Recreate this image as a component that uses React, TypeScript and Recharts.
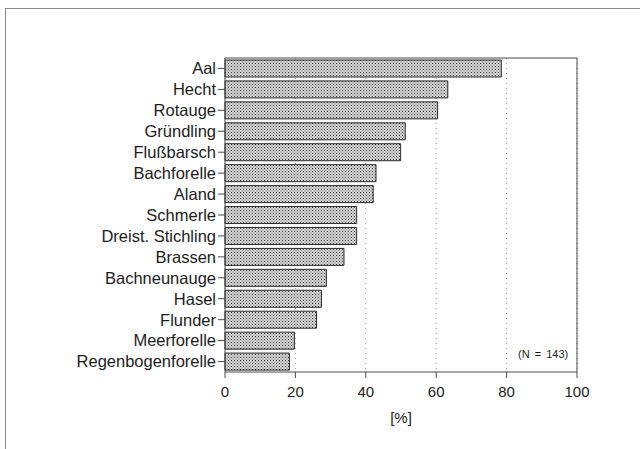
import { BarChart, Bar, XAxis, YAxis, CartesianGrid, ReferenceLine } from 'recharts'

const species = [
  'Aal', 'Hecht', 'Rotauge', 'Gründling', 'Flußbarsch', 'Bachforelle', 'Aland', 'Schmerle',
  'Dreist. Stichling', 'Brassen', 'Bachneunauge', 'Hasel', 'Flunder', 'Meerforelle', 'Regenbogenforelle',
]
const shares = [78.5, 63.3, 60.4, 51.2, 49.9, 42.9, 42.1, 37.4, 37.4, 33.8, 28.8, 27.4, 26.0, 19.7, 18.3]
const xTicks = [0, 20, 40, 60, 80, 100]
const sampleNote = '(N = 143)'

const data = species.map((name, i) => ({ name, value: shares[i] }))

const ink = '#1c1c1c'
const axisGray = '#4a4a4a'

const App: React.FC = () => {
  return (
    <div style={{ position: 'fixed', left: 0, top: 0, width: 640, height: 449, background: '#fff', fontFamily: 'Arial, "Liberation Sans", sans-serif' }}>
      <div style={{ position: 'absolute', left: 5, top: 8, width: 640, height: 449, borderLeft: '1px solid #8a8a8a', borderTop: '1px solid #8a8a8a' }} />
      <BarChart
        width={640}
        height={449}
        data={data}
        layout="vertical"
        barSize={17}
        margin={{ top: 58, right: 63, bottom: 47, left: 0 }}
      >
        <defs>
          <pattern id="dots" width="3" height="3" patternUnits="userSpaceOnUse">
            <rect width="3" height="3" fill="#d9d9d9" />
            <rect x="0" y="0" width="1" height="1" fill="#333" />
            <rect x="1.5" y="1.5" width="1" height="1" fill="#555" />
          </pattern>
        </defs>
        <CartesianGrid xAxisId="bottom" horizontal={false} stroke="#999" strokeDasharray="1 4" />
        <XAxis
          xAxisId="bottom"
          type="number"
          domain={[0, 100]}
          ticks={xTicks}
          height={30}
          tickSize={6}
          tickMargin={8}
          stroke={axisGray}
          tick={{ fill: ink, fontSize: 15 }}
          label={{ value: '[%]', position: 'bottom', offset: 10, fill: ink, fontSize: 15 }}
        />
        <XAxis
          xAxisId="top"
          orientation="top"
          type="number"
          domain={[0, 100]}
          ticks={xTicks}
          mirror
          height={1}
          tickSize={4}
          stroke={axisGray}
          tickFormatter={() => ''}
        />
        <YAxis
          type="category"
          dataKey="name"
          width={225}
          interval={0}
          tickSize={7}
          tickMargin={2}
          stroke={axisGray}
          tick={{ fill: ink, fontSize: 16.5 }}
        />
        <ReferenceLine xAxisId="bottom" x={100} stroke={axisGray} />
        <Bar
          xAxisId="bottom"
          dataKey="value"
          fill="url(#dots)"
          stroke="#2a2a2a"
          strokeWidth={1}
          isAnimationActive={false}
        />
      </BarChart>
      <span style={{ position: 'absolute', left: 518, top: 348, fontSize: 11, color: ink, wordSpacing: 2, whiteSpace: 'nowrap' }}>
        {sampleNote}
      </span>
    </div>
  )
}

export default App
